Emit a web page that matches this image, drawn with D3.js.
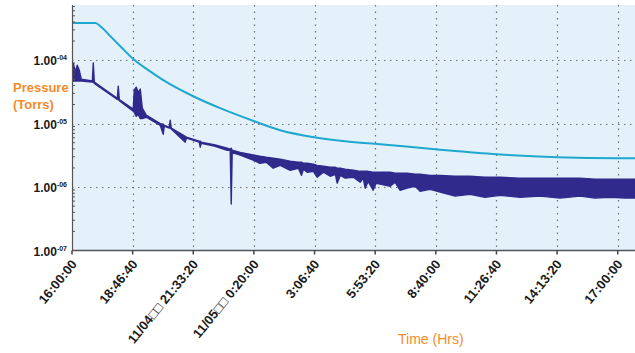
<!DOCTYPE html>
<html>
<head>
<meta charset="utf-8">
<script src="https://cdn.jsdelivr.net/npm/d3@7"></script>
<style>
  body { margin: 0; background: #fff; }
  svg { display: block; }
</style>
</head>
<body>
<div id="chart"></div>
<script>
// time axis: seconds since 16:00:00
const timeTicks = [0, 10000, 20000, 30000, 40000, 50000, 60000, 70000, 80000, 90000];
const timeTickLabels = ["16:00:00", "18:46:40", "11/04\u25A1\u25A1 21:33:20", "11/05\u25A1\u25A1 0:20:00",
  "3:06:40", "5:53:20", "8:40:00", "11:26:40", "14:13:20", "17:00:00"];
const pressureTicks = [1e-4, 1e-5, 1e-6, 1e-7];
const pressureTickExp = ["-04", "-05", "-06", "-07"];

// upper (cyan) trace
const upperTime = [0, 3840, 4830, 6310, 8130, 10100, 12580, 15050, 19990, 24440, 30050, 34330, 39940, 45050, 50820, 59880, 70100, 79990, 90050, 92850];
const upperPressure = [3.84e-4, 3.84e-4, 3.32e-4, 2.39e-4, 1.6e-4, 1.04e-4, 6.95e-5, 4.84e-5, 2.7e-5, 1.75e-5, 1.09e-5, 7.87e-6, 6.1e-6, 5.27e-6, 4.73e-6, 3.95e-6, 3.29e-6, 2.95e-6, 2.84e-6, 2.84e-6];

// lower (navy) trace, noisy: max / min envelope per sample
const lowerTime = [0, 210, 540, 870, 1200, 1530, 3350, 3510, 3680, 7470, 7630, 7800,
  10100, 10270, 10600, 10930, 11260, 11590, 12250, 14550, 15050, 15210, 16040, 16200, 16370,
  18680, 18870, 20980, 21150, 21310, 23620, 25600, 26090, 26260, 26420, 27740, 29880,
  30990, 32030, 33180, 34330, 35980, 37340, 37840, 38170, 38790, 39810, 40430, 41460,
  42580, 43440, 43730, 44260, 45050, 46410, 47520, 48020, 48350, 48840, 49660, 50160,
  50820, 52470, 53290, 54120, 55270, 56590, 57410, 59060, 60710, 63180, 65650, 68110,
  70600, 73890, 77190, 80480, 83780, 86250, 88730, 91190, 92850];
const lowerMax = [4.8e-5, 9.0e-5, 6.5e-5, 8.3e-5, 6.9e-5, 5.0e-5, 4.7e-5, 9.0e-5, 4.5e-5, 2.5e-5, 3.9e-5, 2.4e-5,
  1.7e-5, 3.4e-5, 3.75e-5, 3.1e-5, 3.5e-5, 1.75e-5, 1.36e-5, 1.0e-5, 9.8e-6, 9.4e-6, 8.8e-6, 1.13e-5, 8.5e-6,
  6.3e-6, 6.1e-6, 5.3e-6, 5.3e-6, 5.1e-6, 4.6e-6, 4.1e-6, 3.95e-6, 4.1e-6, 3.8e-6, 3.5e-6, 3.2e-6,
  3.06e-6, 2.95e-6, 2.85e-6, 2.74e-6, 2.55e-6, 2.46e-6, 2.46e-6, 2.37e-6, 2.37e-6, 2.29e-6, 2.2e-6, 2.13e-6,
  2.05e-6, 2.05e-6, 1.98e-6, 1.98e-6, 1.91e-6, 1.84e-6, 1.77e-6, 1.77e-6, 1.77e-6, 1.77e-6, 1.71e-6, 1.71e-6,
  1.71e-6, 1.71e-6, 1.65e-6, 1.65e-6, 1.65e-6, 1.59e-6, 1.59e-6, 1.53e-6, 1.53e-6, 1.48e-6, 1.48e-6, 1.43e-6,
  1.43e-6, 1.38e-6, 1.38e-6, 1.38e-6, 1.38e-6, 1.33e-6, 1.33e-6, 1.33e-6, 1.33e-6];
const lowerMin = [4.8e-5, 4.7e-5, 4.7e-5, 4.7e-5, 4.7e-5, 4.7e-5, 4.5e-5, 4.5e-5, 4.3e-5, 2.4e-5, 2.4e-5, 2.3e-5,
  1.57e-5, 1.5e-5, 1.3e-5, 1.4e-5, 1.2e-5, 1.2e-5, 1.26e-5, 9.4e-6, 6.8e-6, 9.1e-6, 8.5e-6, 8.5e-6, 8.2e-6,
  5.1e-6, 5.9e-6, 5.1e-6, 4.25e-6, 4.9e-6, 4.4e-6, 3.8e-6, 3.8e-6, 5.4e-7, 3.5e-6, 3.2e-6, 2.65e-6,
  2.37e-6, 2.46e-6, 1.98e-6, 2.2e-6, 1.84e-6, 1.98e-6, 1.53e-6, 1.91e-6, 1.71e-6, 1.77e-6, 1.43e-6, 1.71e-6,
  1.48e-6, 1.59e-6, 1.15e-6, 1.53e-6, 1.38e-6, 1.43e-6, 1.19e-6, 1.38e-6, 9.6e-7, 1.23e-6, 8.9e-7, 1.15e-6,
  1.11e-6, 1.03e-6, 1.19e-6, 8.9e-7, 9.6e-7, 1.03e-6, 8.6e-7, 9.2e-7, 8.3e-7, 7.2e-7, 7.7e-7, 6.9e-7,
  7.4e-7, 6.9e-7, 7.2e-7, 6.7e-7, 7.2e-7, 6.7e-7, 6.9e-7, 6.7e-7, 6.7e-7];

const width = 635, height = 353;
const plotLeft = 72, plotRight = 635, plotTop = 5, plotBottom = 250.5;

const svg = d3.select('#chart').append('svg')
  .attr('width', width)
  .attr('height', height);

const x = d3.scaleLinear().domain([0, 92850]).range([plotLeft, plotRight]);
const y = d3.scaleLog().domain([1e-7, 7.4e-4]).range([plotBottom, plotTop]);

// plot background
svg.append('rect')
  .attr('x', plotLeft).attr('y', plotTop)
  .attr('width', plotRight - plotLeft).attr('height', plotBottom - plotTop)
  .attr('fill', '#e4f1fb');

svg.append('clipPath').attr('id', 'plot')
  .append('rect')
  .attr('x', plotLeft).attr('y', plotTop)
  .attr('width', plotRight - plotLeft).attr('height', plotBottom - plotTop);

// dotted grid
svg.append('g')
  .selectAll('line')
  .data(pressureTicks.slice(0, 3))
  .join('line')
  .attr('x1', plotLeft).attr('x2', plotRight)
  .attr('y1', d => Math.round(y(d)) + 0.5).attr('y2', d => Math.round(y(d)) + 0.5)
  .attr('stroke', '#6f6f6f').attr('stroke-width', 1.2)
  .attr('stroke-dasharray', '1.5,4.5');

svg.append('g')
  .selectAll('line')
  .data(timeTicks.slice(1))
  .join('line')
  .attr('x1', d => Math.round(x(d)) + 0.5).attr('x2', d => Math.round(x(d)) + 0.5)
  .attr('y1', plotTop).attr('y2', plotBottom)
  .attr('stroke', '#6f6f6f').attr('stroke-width', 1.2)
  .attr('stroke-dasharray', '1.5,5');

const plot = svg.append('g').attr('clip-path', 'url(#plot)');

// upper trace
const upperData = upperTime.map((t, i) => ({ t, p: upperPressure[i] }));
plot.append('path')
  .datum(upperData)
  .attr('fill', 'none')
  .attr('stroke', '#1ea7cf')
  .attr('stroke-width', 2)
  .attr('d', d3.line().x(d => x(d.t)).y(d => y(d.p)).curve(d3.curveMonotoneX));

// lower trace drawn as a band between its max and min
const lowerData = lowerTime.map((t, i) => ({ t, hi: lowerMax[i], lo: lowerMin[i] }));
plot.append('path')
  .datum(lowerData)
  .attr('fill', '#2f2a8c')
  .attr('stroke', '#2f2a8c')
  .attr('stroke-width', 1.4)
  .attr('stroke-linejoin', 'round')
  .attr('d', d3.area().x(d => x(d.t)).y0(d => y(d.lo)).y1(d => y(d.hi)));

// y axis
const yAxis = svg.append('g');
yAxis.append('line')
  .attr('x1', plotLeft + 0.5).attr('x2', plotLeft + 0.5)
  .attr('y1', plotTop).attr('y2', plotBottom)
  .attr('stroke', '#555').attr('stroke-width', 1.2);

const minor = [];
for (let e = -7; e < -3; e++) {
  for (let k = 2; k <= 9; k++) minor.push(k * Math.pow(10, e));
}
yAxis.selectAll('line.minor')
  .data(minor.filter(d => d <= 7.4e-4))
  .join('line')
  .attr('class', 'minor')
  .attr('x1', plotLeft).attr('x2', plotLeft + 3)
  .attr('y1', d => y(d)).attr('y2', d => y(d))
  .attr('stroke', '#555').attr('stroke-width', 1);

const yLabels = yAxis.selectAll('text')
  .data(pressureTicks)
  .join('text')
  .attr('x', plotLeft - 5)
  .attr('y', d => y(d) + 5)
  .attr('text-anchor', 'end')
  .attr('font-family', 'Liberation Sans, Arial, sans-serif')
  .attr('font-weight', 'bold')
  .attr('fill', '#1a1a1a');
yLabels.append('tspan').attr('font-size', 12).text('1.00');
yLabels.append('tspan').attr('font-size', 7).attr('dy', -5)
  .text((d, i) => pressureTickExp[i]);

// x axis
const xAxis = svg.append('g');
xAxis.append('line')
  .attr('x1', plotLeft).attr('x2', plotRight)
  .attr('y1', plotBottom).attr('y2', plotBottom)
  .attr('stroke', '#555').attr('stroke-width', 1.6);
xAxis.selectAll('line.tick')
  .data(timeTicks)
  .join('line')
  .attr('class', 'tick')
  .attr('x1', d => x(d)).attr('x2', d => x(d))
  .attr('y1', plotBottom).attr('y2', plotBottom + 4)
  .attr('stroke', '#444').attr('stroke-width', 1.5);
xAxis.selectAll('text')
  .data(timeTicks)
  .join('text')
  .attr('transform', d => `translate(${x(d) + 2}, ${plotBottom + 11}) rotate(-51)`)
  .attr('text-anchor', 'end')
  .attr('dy', '0.35em')
  .attr('font-family', 'Liberation Sans, Arial, sans-serif')
  .attr('font-weight', 'bold')
  .attr('font-size', 13)
  .attr('fill', '#1a1a1a')
  .text((d, i) => timeTickLabels[i]);

// axis titles
const title = svg.append('g')
  .attr('font-family', 'Liberation Sans, Arial, sans-serif')
  .attr('fill', '#f58b2c');
title.append('text').attr('x', 13).attr('y', 92)
  .attr('font-size', 13).attr('font-weight', 'bold').text('Pressure');
title.append('text').attr('x', 13).attr('y', 109)
  .attr('font-size', 13).attr('font-weight', 'bold').text('(Torrs)');
title.append('text').attr('x', 398).attr('y', 344)
  .attr('font-size', 14).text('Time (Hrs)');
</script>
</body>
</html>
